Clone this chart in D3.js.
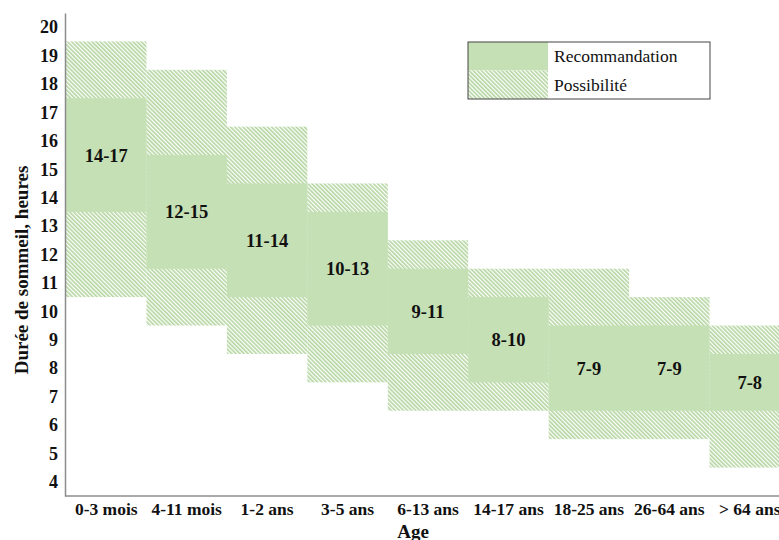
<!DOCTYPE html>
<html><head><meta charset="utf-8">
<script src="https://cdn.jsdelivr.net/npm/d3@7/dist/d3.min.js"></script>
<style>html,body{margin:0;padding:0;background:#fff;}svg{display:block;}</style>
</head><body>
<svg id="chart" width="779" height="540"></svg>
<script>
const categories = ["0-3 mois","4-11 mois","1-2 ans","3-5 ans","6-13 ans","14-17 ans","18-25 ans","26-64 ans","> 64 ans"];
const recMin  = [14,12,11,10, 9, 8, 7, 7, 7];
const recMax  = [17,15,14,13,11,10, 9, 9, 8];
const possMin = [11,10, 9, 8, 7, 7, 6, 6, 5];
const possMax = [19,18,16,14,12,11,11,10, 9];
const yTicks = d3.range(4, 21);
const legendLabels = ["Recommandation","Possibilité"];

const FONT = "'Liberation Serif', 'DejaVu Serif', serif";
const GREEN = "#c5e0b4";
const HATCH = "#b3d5a0";

const svg = d3.select("#chart");
const defs = svg.append("defs");
const pat = defs.append("pattern").attr("id","hatch").attr("patternUnits","userSpaceOnUse")
  .attr("width",2.9).attr("height",10).attr("patternTransform","rotate(-45)");
pat.append("rect").attr("width",2.9).attr("height",10).attr("fill","#fff");
pat.append("rect").attr("x",0).attr("width",1.6).attr("height",10).attr("fill",HATCH);

const x = d3.scaleBand().domain(categories).range([66, 790]).padding(0);
const y = d3.scaleLinear().domain([3.5, 20.5]).range([496, 13]);

const data = categories.map((c,i)=>({c, rMin:recMin[i], rMax:recMax[i], pMin:possMin[i], pMax:possMax[i]}));

// possibility (hatched)
svg.append("g").selectAll("rect").data(data).join("rect")
  .attr("x", d=>x(d.c)).attr("width", x.bandwidth())
  .attr("y", d=>y(d.pMax+0.5)).attr("height", d=>y(d.pMin-0.5)-y(d.pMax+0.5))
  .attr("fill","url(#hatch)");
// recommendation (solid)
svg.append("g").selectAll("rect").data(data).join("rect")
  .attr("x", d=>x(d.c)).attr("width", x.bandwidth())
  .attr("y", d=>y(d.rMax+0.5)).attr("height", d=>y(d.rMin-0.5)-y(d.rMax+0.5))
  .attr("fill",GREEN);
// value labels
svg.append("g").selectAll("text").data(data).join("text")
  .attr("x", d=>x(d.c)+x.bandwidth()/2).attr("y", d=>y((d.rMin+d.rMax)/2))
  .attr("dy","0.35em").attr("text-anchor","middle")
  .attr("font-family",FONT).attr("font-weight","bold").attr("font-size",18.5).attr("fill","#111")
  .text(d=>d.rMin+"-"+d.rMax);

// axes
const yAxis = svg.append("g").attr("transform","translate(65,0)")
  .call(d3.axisLeft(y).tickValues(yTicks).tickSize(0).tickPadding(7).tickFormat(d3.format("d")));
yAxis.select(".domain").attr("stroke","#8c8c8c").attr("stroke-width",1.5);
yAxis.selectAll("text").attr("font-family",FONT).attr("font-weight","bold").attr("font-size",18).attr("fill","#111");

const xAxis = svg.append("g").attr("transform","translate(0,496)")
  .call(d3.axisBottom(x).tickSize(0).tickPadding(7));
xAxis.select(".domain").attr("stroke","#8c8c8c").attr("stroke-width",1.5).attr("d","M65,0H790");
xAxis.selectAll("text").attr("font-family",FONT).attr("font-weight","bold").attr("font-size",17.5).attr("fill","#111");

// axis titles
svg.append("text").attr("x",413).attr("y",538).attr("text-anchor","middle")
  .attr("font-family",FONT).attr("font-weight","bold").attr("font-size",19).attr("fill","#111").text("Age");
svg.append("text").attr("transform","translate(28,270) rotate(-90)").attr("text-anchor","middle")
  .attr("font-family",FONT).attr("font-weight","bold").attr("font-size",19).attr("fill","#111")
  .text("Durée de sommeil, heures");

// legend
const lg = svg.append("g").attr("transform","translate(468,42)");
lg.append("rect").attr("width",80).attr("height",28.5).attr("fill",GREEN);
lg.append("rect").attr("y",28.5).attr("width",80).attr("height",28.5).attr("fill","url(#hatch)");
lg.append("rect").attr("width",242).attr("height",57).attr("fill","none").attr("stroke","#444").attr("stroke-width",1);
lg.selectAll("text.l").data(legendLabels).join("text").attr("class","l")
  .attr("x",86).attr("y",(d,i)=>14+i*28.5).attr("dy","0.35em")
  .attr("font-family",FONT).attr("font-size",17.5).attr("fill","#111").text(d=>d);
</script>
</body></html>
